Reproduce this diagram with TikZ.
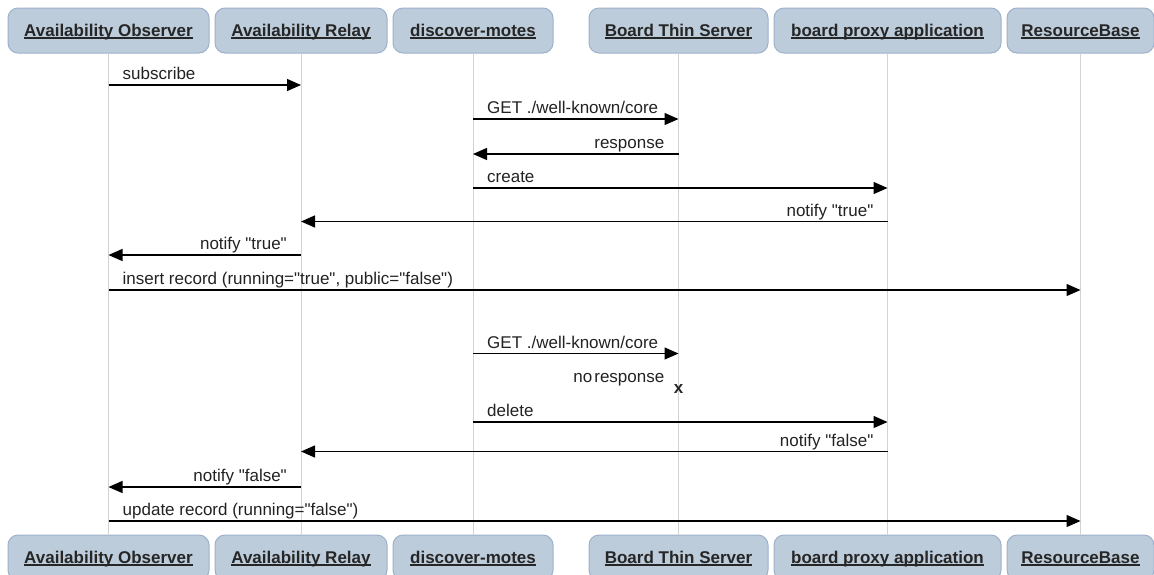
\documentclass[tikz,border=0pt]{standalone}
\usepackage{fontspec}
\setmainfont{Liberation Sans}[Ligatures=TeXOff]
\usetikzlibrary{arrows.meta}
\definecolor{headfill}{HTML}{BCCCDA}
\definecolor{headline}{HTML}{9DB1CC}
\definecolor{lifeline}{HTML}{D3D3D3}
\definecolor{msgtext}{HTML}{222222}
% bold participant title with an underline just under the baseline
\newcommand\headtext[1]{\setbox0\hbox{#1}\rlap{\copy0}\rule[-2.6pt]{\wd0}{1.2pt}}

\begin{document}
\begin{tikzpicture}[x=1pt,y=-1pt,
  head/.style={draw=headline, fill=headfill, line width=1pt, rounded corners=10pt,
    minimum height=45pt, inner sep=0pt, text height=15pt, text depth=4pt, text=black!85,
    font=\fontsize{17}{20}\selectfont\bfseries},
  life/.style={draw=lifeline, line width=1pt},
  msg/.style={draw=black, line width=1.3pt, -{Triangle[length=14pt,width=12pt]}},
  lbl/.style={font=\fontsize{17}{20}\selectfont, text=msgtext, inner sep=0pt}
]
\useasboundingbox (0,0) rectangle (1154,574);

% participants, top row
\node[head, minimum width=201pt] (ao) at (108.5,30.5) {\headtext{Availability Observer}};
\node[head, minimum width=172pt] (ar) at (301,30.5)   {\headtext{Availability Relay}};
\node[head, minimum width=160pt] (dm) at (473,30.5)   {\headtext{discover-motes}};
\node[head, minimum width=179pt] (bt) at (678.5,30.5) {\headtext{Board Thin Server}};
\node[head, minimum width=227pt] (bp) at (887.5,30.5) {\headtext{board proxy application}};
\node[head, minimum width=147pt] (rb) at (1080.5,30.5){\headtext{ResourceBase}};

% participants, bottom row
\node[head, minimum width=201pt] (aoB) at (108.5,557.5) {\headtext{Availability Observer}};
\node[head, minimum width=172pt] (arB) at (301,557.5)   {\headtext{Availability Relay}};
\node[head, minimum width=160pt] (dmB) at (473,557.5)   {\headtext{discover-motes}};
\node[head, minimum width=179pt] (btB) at (678.5,557.5) {\headtext{Board Thin Server}};
\node[head, minimum width=227pt] (bpB) at (887.5,557.5) {\headtext{board proxy application}};
\node[head, minimum width=147pt] (rbB) at (1080.5,557.5){\headtext{ResourceBase}};

% lifelines
\foreach \p in {ao,ar,dm,bt,bp,rb}
  \draw[life] (\p.south) -- (\p B.north);

% messages
\draw[msg] (ao |- 0,85) -- (ar |- 0,85);
\path (ao |- 0,79.5) ++(14,0) node[lbl, anchor=base west] {subscribe};

\draw[msg] (dm |- 0,119) -- (bt |- 0,119);
\path (dm |- 0,113.5) ++(14,0) node[lbl, anchor=base west] {GET ./well-known/core};

\draw[msg] (bt |- 0,154) -- (dm |- 0,154);
\path (bt |- 0,148.5) ++(-14,0) node[lbl, anchor=base east] {response};

\draw[msg] (dm |- 0,188) -- (bp |- 0,188);
\path (dm |- 0,182.5) ++(14,0) node[lbl, anchor=base west] {create};

\draw[msg] (bp |- 0,221.5) -- (ar |- 0,221.5);
\path (bp |- 0,216) ++(-14,0) node[lbl, anchor=base east] {notify "true"};

\draw[msg] (ar |- 0,255) -- (ao |- 0,255);
\path (ar |- 0,249.5) ++(-14,0) node[lbl, anchor=base east] {notify "true"};

\draw[msg] (ao |- 0,290) -- (rb |- 0,290);
\path (ao |- 0,284.5) ++(14,0) node[lbl, anchor=base west] {insert record (running="true", public="false")};

\draw[msg] (dm |- 0,353.5) -- (bt |- 0,353.5);
\path (dm |- 0,348) ++(14,0) node[lbl, anchor=base west] {GET ./well-known/core};

\path (bt |- 0,382) ++(-14,0) node[lbl, anchor=base east] {no\kern2pt response};
\node[lbl, text=black!85, font=\fontsize{17}{19}\selectfont\bfseries] (lost) at (bt |- 0,389.5) {x};

\draw[msg] (dm |- 0,422) -- (bp |- 0,422);
\path (dm |- 0,416.5) ++(14,0) node[lbl, anchor=base west] {delete};

\draw[msg] (bp |- 0,451.5) -- (ar |- 0,451.5);
\path (bp |- 0,446) ++(-14,0) node[lbl, anchor=base east] {notify "false"};

\draw[msg] (ar |- 0,487) -- (ao |- 0,487);
\path (ar |- 0,481.5) ++(-14,0) node[lbl, anchor=base east] {notify "false"};

\draw[msg] (ao |- 0,521) -- (rb |- 0,521);
\path (ao |- 0,515.5) ++(14,0) node[lbl, anchor=base west] {update record (running="false")};
\end{tikzpicture}
\end{document}
